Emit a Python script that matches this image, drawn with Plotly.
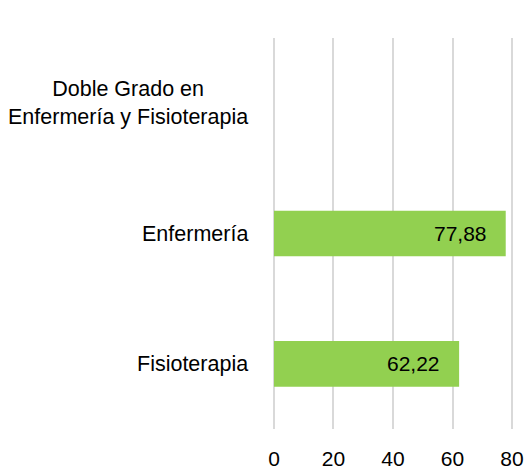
import plotly.graph_objects as go

# categories listed top to bottom
categorias = ["Doble Grado en<br>Enfermería y Fisioterapia", "Enfermería", "Fisioterapia"]
valores = [None, 77.88, 62.22]
ticks_x = [0, 20, 40, 60, 80]

FONT = "Liberation Sans"
verde = "#92D050"

fig = go.Figure()
fig.add_trace(go.Bar(
    y=categorias,
    x=valores,
    orientation="h",
    marker=dict(color=verde, line=dict(width=0)),
    width=0.35,
    hoverinfo="skip",
))

# value labels inside the bars, near the end
annotations = []
for cat, val in zip(categorias, valores):
    if val is None:
        continue
    annotations.append(dict(
        x=val, y=cat, xref="x", yref="y",
        text=f"{val:.2f}".replace(".", ","),
        showarrow=False, xanchor="right", xshift=-17,
        font=dict(family=FONT, size=21, color="#000000"),
    ))

# category labels (centered multi-line text, like the original)
for cat in categorias:
    annotations.append(dict(
        x=0, y=cat, xref="paper", yref="y",
        text=cat, showarrow=False, xanchor="right", xshift=-21,
        align="center",
        font=dict(family=FONT, size=21.5, color="#000000"),
    ))

# the page body has an 8px default margin, so the figure is shrunk
# and the margins shifted to keep the plot in the same place on screen
fig.update_layout(
    width=524, height=463,
    margin=dict(l=263, r=17, t=30, b=42),
    paper_bgcolor="white", plot_bgcolor="white",
    showlegend=False,
    font=dict(family=FONT, size=21, color="#000000"),
    annotations=annotations,
    xaxis=dict(
        # padded a little so the 0 and 80 gridlines are drawn
        range=[-1, 81], tickvals=ticks_x,
        showgrid=True, gridcolor="#D9D9D9", gridwidth=1.5,
        zeroline=False, showline=False, ticks="",
        ticklabelstandoff=15, automargin=False,
        tickfont=dict(family=FONT, size=21, color="#000000"),
    ),
    yaxis=dict(
        categoryorder="array", categoryarray=categorias,
        autorange="reversed", automargin=False,
        showticklabels=False, showgrid=False, zeroline=False,
        showline=False, ticks="",
    ),
)

fig.write_html("out.html")
